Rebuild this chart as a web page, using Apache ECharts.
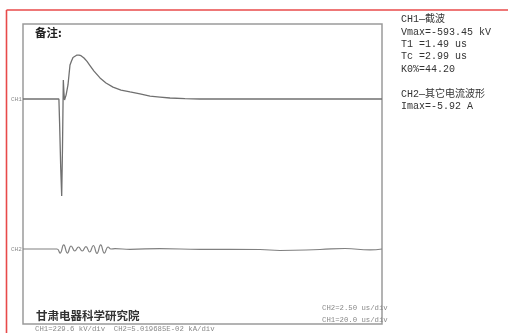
<!DOCTYPE html>
<html><head><meta charset="utf-8">
<script src="https://cdn.jsdelivr.net/npm/echarts@6/dist/echarts.min.js"></script>
<style>html,body{margin:0;padding:0;background:#fff}#c{width:508px;height:333px}</style>
</head><body><div id="c"></div>
<script>
// time axis in divisions (10 div across)
const ch1X = [0, 1.00, 1.02, 1.05, 1.078, 1.10, 1.123, 1.14, 1.156, 1.20, 1.253, 1.309, 1.351, 1.393, 1.448, 1.504, 1.560, 1.616, 1.699, 1.783, 1.866, 1.978, 2.145, 2.312, 2.507, 2.730, 2.981, 3.259, 3.538, 3.816, 4.095, 4.513, 4.930, 6.5, 8, 10];
// CH1 voltage, kV
const ch1Y = [0, 0, -150, -420, -593.45, -300, 116, 40, -6, 24, 86, 208, 233, 254, 265, 269, 269, 265, 251, 230, 205, 171, 129, 98, 73, 55, 43, 31, 18, 12, 6, 2.5, 0, 0, 0, 0];
const ch2X = [0, 0.947, 1.031, 1.134, 1.237, 1.340, 1.443, 1.546, 1.649, 1.752, 1.855, 1.958, 2.061, 2.164, 2.267, 2.370, 2.451, 2.563, 2.981, 3.816, 4.930, 6.602, 7.159, 8.273, 8.969, 9.666, 10];
// CH2 current, A
const ch2Y = [0, 0, -5.4, 5.4, -5.4, 4.0, -2.7, 2.7, -2.7, 3.3, -4.0, 4.7, -5.92, 5.4, -5.4, 2.7, 0, 0.4, -0.4, 0.5, -0.5, -0.7, -2.0, -0.7, 0.7, -1.3, 0];
const ch1PerDiv = 229.6;      // kV/div
const ch2PerDiv = 50.19685;   // A/div
const infoLines = ['CH1—截波', 'Vmax=-593.45 kV', 'T1 =1.49 us', 'Tc =2.99 us', 'K0%=44.20', '', 'CH2—其它电流波形', 'Imax=-5.92 A'];
const bottomText = 'CH1=229.6 kV/div  CH2=5.019685E-02 kA/div';
const timeLines = ['CH2=2.50 us/div', 'CH1=20.0 us/div'];

const mono = '"Liberation Mono","Noto Sans CJK SC",monospace';
const chart = echarts.init(document.getElementById('c'));
const gfx = [
  {type:'line', shape:{x1:6.5, y1:10, x2:508, y2:10}, style:{stroke:'#e84a4a', lineWidth:1.6}},
  {type:'line', shape:{x1:6.5, y1:10, x2:6.5, y2:333}, style:{stroke:'#e84a4a', lineWidth:1.6}},
  {type:'text', left:35, top:27, style:{text:'备注:', font:'bold 11.5px "Noto Sans CJK SC"', fill:'#222'}},
  {type:'text', left:36, top:309.5, style:{text:'甘肃电器科学研究院', font:'bold 11.5px "Noto Sans CJK SC"', fill:'#333'}},
  {type:'text', left:35, top:325, style:{text:bottomText, font:'7.3px '+mono, fill:'#888'}},
  {type:'text', left:11, top:96, style:{text:'CH1', font:'6px '+mono, fill:'#888'}},
  {type:'text', left:11, top:246, style:{text:'CH2', font:'6px '+mono, fill:'#888'}}
];
timeLines.forEach((t,i)=>gfx.push({type:'text', left:322, top:304.5+i*12, style:{text:t, font:'7.3px '+mono, fill:'#888'}}));
infoLines.forEach((t,i)=>{ if(t) gfx.push({type:'text', left:401, top:14.5+i*12.4, style:{text:t, font:'10px '+mono, fill:'#333'}}); });

chart.setOption({
  animation:false,
  backgroundColor:'#fff',
  grid:{left:23, top:24, right:126, bottom:9, show:true, borderColor:'#9a9a9a', borderWidth:1.5, backgroundColor:'transparent'},
  xAxis:{type:'value', min:0, max:10, show:false},
  yAxis:[
    {type:'value', min:-6*ch1PerDiv, max:2*ch1PerDiv, show:false},
    {type:'value', min:-2*ch2PerDiv, max:6*ch2PerDiv, show:false}
  ],
  series:[
    {type:'line', yAxisIndex:0, data:ch1X.map((x,i)=>[x,ch1Y[i]]), showSymbol:false, lineStyle:{color:'#707070', width:1.3}},
    {type:'line', yAxisIndex:1, smooth:0.5, data:ch2X.map((x,i)=>[x,ch2Y[i]]), showSymbol:false, lineStyle:{color:'#808080', width:1.2}}
  ],
  graphic:gfx
});
</script></body></html>
